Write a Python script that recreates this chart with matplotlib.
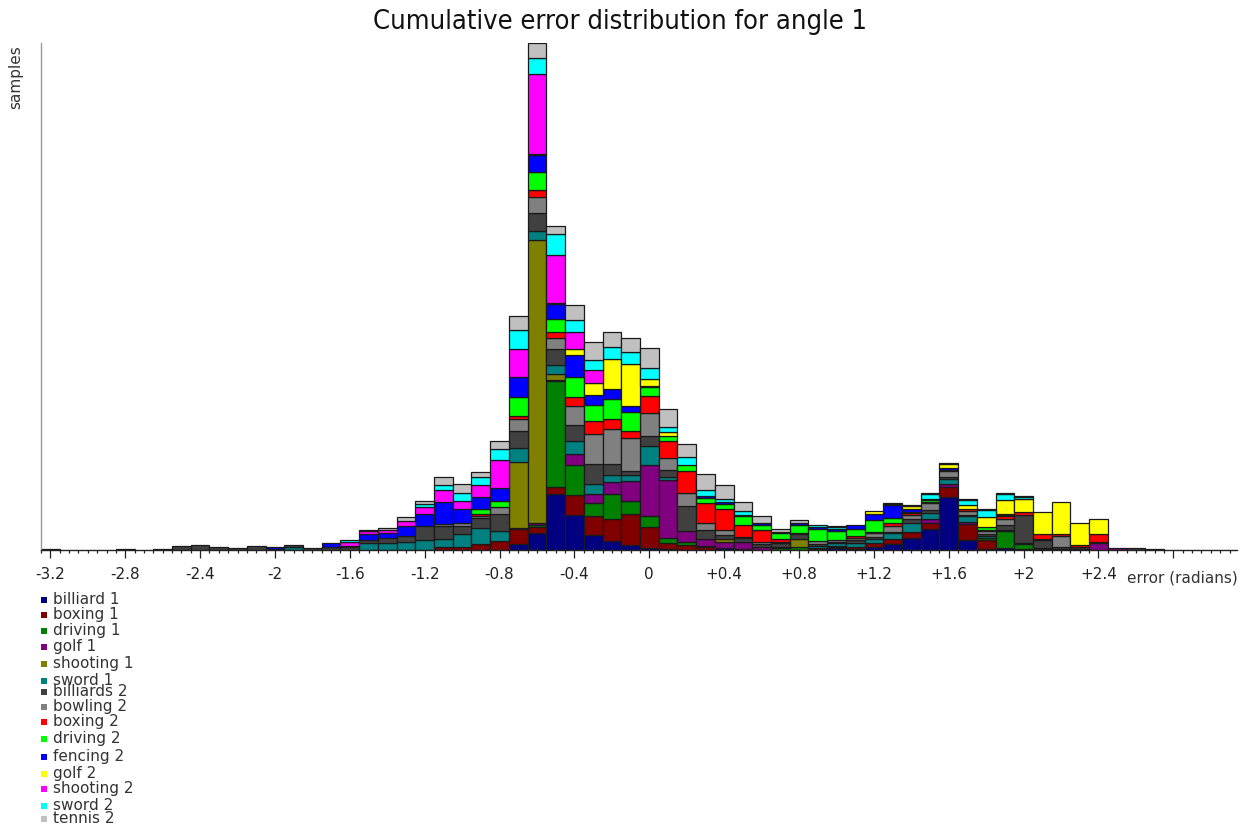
import numpy as np
import matplotlib
matplotlib.use("Agg")
import matplotlib.pyplot as plt
from matplotlib.patches import Rectangle

# Histogram bins (0.1 rad wide), centres from -3.2 to +2.7
bin_centers = np.round(np.arange(-3.2, 2.75, 0.1), 1)

series_names = ["billiard 1", "boxing 1", "driving 1", "golf 1", "shooting 1",
                "sword 1", "billiards 2", "bowling 2", "boxing 2", "driving 2",
                "fencing 2", "golf 2", "shooting 2", "sword 2", "tennis 2"]

series_colors = ["#000080", "#800000", "#008000", "#800080", "#808000",
                 "#008080", "#404040", "#808080", "#ff0000", "#00ff00",
                 "#0000ff", "#ffff00", "#ff00ff", "#00ffff", "#c0c0c0"]

# Sample counts per bin, one list per recording (stack order bottom -> top)
billiard_1 = [0, 0, 0, 0, 0, 0, 0, 0, 0, 0,
              0, 0, 0, 0, 0, 0, 0, 0, 0, 0,
              0, 0, 0, 0, 0, 6, 16.5, 56, 35, 14.5,
              8.5, 4.5, 1.5, 1, 0, 0, 2, 1, 0, 0,
              0, 1, 1.5, 1, 3, 6, 12, 21, 52.5, 10,
              1, 1.5, 1, 1, 1, 0, 0, 0, 0, 0]
boxing_1 = [0, 0, 0, 0, 0, 0, 0, 0, 0, 0,
            0, 0, 0, 0, 0, 0, 0, 0, 0, 0,
            0, 2.5, 2.5, 6, 9, 14.5, 6, 6.5, 19.5, 19.5,
            22.5, 31.5, 21, 6, 4.5, 3, 0, 0, 0, 0,
            0, 0, 1.5, 2, 3.5, 5, 6, 6, 10, 16,
            9, 0, 0, 1, 0, 1, 0, 0, 0, 0]
driving_1 = [0, 0, 0, 0, 0, 0, 0, 0, 0, 0,
             0, 0, 0, 0, 0, 0, 0, 0, 0, 0,
             0, 0, 0, 0, 0, 0, 2, 106, 30, 13,
             24.5, 13, 11, 5, 3.5, 0.5, 0, 0, 0, 2,
             3, 0, 0, 0, 0, 0, 0, 0, 0, 0,
             1.5, 17.5, 4.5, 0, 0, 0, 0, 0, 0, 0]
golf_1 = [0, 0, 0, 0, 0, 0, 0, 0, 0, 0,
          0, 0, 0, 0, 0, 0, 0, 0, 0, 0,
          0, 0, 0, 0, 0, 1, 2, 1, 11, 9,
          12.5, 20, 51, 57.5, 11, 7, 6, 6.5, 3, 1,
          0, 1, 1, 0, 0, 0, 0, 4, 3.5, 2,
          0, 0, 0, 0, 0, 0, 6.5, 2, 0, 0]
shooting_1 = [0, 0, 0, 0, 0, 0, 0, 0, 0, 0,
              0, 0, 0, 0, 0, 0, 0, 0, 0, 0,
              0, 0, 0, 0, 0, 66, 283, 6, 0, 0,
              0, 0, 0, 0, 0, 0, 2.5, 0, 0, 0,
              8, 0, 0, 0, 0, 0, 0, 0, 0, 0,
              0, 0, 0, 0, 0, 0, 0, 0, 0, 0]
sword_1 = [0, 0, 0, 0, 0, 0, 0, 0, 0, 0,
           0, 0, 0, 3, 0, 0, 0, 6.5, 6.5, 7.5,
           9.5, 8.5, 13.5, 16, 10, 14, 8.5, 9.5, 13.5, 10,
           7, 6, 19.5, 3, 0, 0, 0, 0, 0, 0,
           0, 2, 2.5, 4, 4, 6, 9, 6, 5, 6,
           2, 1, 1, 0, 0, 0, 0, 0, 0, 0]
billiards_2 = [1, 0, 0, 0, 1, 0, 1, 4, 5, 3,
               2, 3.5, 1, 1.5, 2, 2.5, 3, 3, 5, 6,
               14, 13, 8, 10, 17, 17, 18.5, 16, 15.5, 20,
               11, 3.5, 10, 7.5, 24.5, 9.5, 4, 4, 3, 3.5,
               4.5, 1.5, 1.5, 2.5, 2, 1, 4, 2.5, 2, 1,
               2, 5, 28.5, 7.5, 1.5, 2, 1, 0, 1.5, 1]
bowling_2 = [0, 0, 0, 0, 0, 0, 0, 0, 0, 0,
             0, 0, 0, 0, 0, 0, 0, 0, 0, 0,
             0, 1.5, 2.5, 2, 6.5, 12, 16, 10.5, 19.5, 29.5,
             34.5, 33.5, 23, 11.5, 13.5, 7, 5.5, 1, 1.5, 1.5,
             1.5, 3.5, 2, 2, 4, 6, 4, 7.5, 6, 4,
             3, 6, 0, 1.5, 11, 0, 0, 0, 0, 0]
boxing_2 = [0, 0, 0, 0, 0, 0, 0, 0, 0, 0,
            0, 0, 0, 0, 0, 0, 0, 0, 0, 0,
            0, 0, 0, 2.3, 0, 3.5, 6.5, 6, 9, 13.5,
            10.5, 6.5, 16.5, 17.5, 21.5, 20, 21, 12.5, 12, 3,
            0, 0, 0, 2, 1, 2.5, 1.5, 1, 1, 2,
            1.5, 3, 3, 4.5, 2, 2, 8, 0, 0, 0]
driving_2 = [0, 0, 0, 0, 0, 0, 0, 0, 0, 0,
             0, 0, 0, 0, 0, 0, 0, 0, 0, 0,
             0, 0, 0, 4.3, 6, 19, 18.5, 13, 20, 15.5,
             19.5, 19, 9, 5, 6, 5, 4.5, 8.5, 5, 5.5,
             7.5, 12, 8.5, 7.5, 12, 5, 1, 2, 0, 0,
             2.5, 1, 0, 0, 0, 0, 0, 0, 0, 0]
fencing_2 = [0, 0, 0, 0, 0, 0, 0, 0, 0, 0,
             0, 0, 2, 0, 0, 4, 1, 6, 5, 10.5,
             12, 22.5, 14, 12, 13, 19.5, 16.5, 15, 21.5, 10,
             10.5, 6, 1, 0, 0, 1.5, 2.5, 1.5, 2, 0,
             2, 2, 2, 3.5, 6, 13, 3.5, 1, 1.5, 0,
             0, 1, 0, 0, 0, 0, 0, 0, 0, 0]
golf_2 = [0, 0, 0, 0, 0, 0, 0, 0, 0, 0,
          0, 0, 0, 0, 0, 0, 0, 0, 0, 0,
          0, 0, 0, 0, 0, 0, 1, 1, 6, 12.5,
          29.5, 42, 7.5, 3.5, 0, 0, 0, 0, 0, 1.5,
          0, 0, 0, 0, 3, 0, 3, 0, 4, 4,
          10, 14, 12.5, 22, 32, 21.5, 15.5, 0, 0, 0]
shooting_2 = [0, 0, 0, 0, 0, 0, 0, 0, 0, 0,
              0, 0, 0, 0, 0, 0, 3.5, 3, 3, 5,
              7, 12, 8.5, 12.3, 28, 28, 80, 48, 17, 13,
              0, 0, 0, 0, 0, 0, 0, 0, 0, 0,
              0, 0, 0, 0, 0, 0, 0, 0, 0, 0,
              0, 0, 0, 0, 0, 0, 0, 0, 0, 0]
sword_2 = [0, 0, 0, 0, 0, 0, 0, 0, 0, 0,
           0, 0, 0, 0, 0, 0, 2, 0, 0, 0,
           3, 5, 8, 8.3, 11, 19, 16, 21, 12, 10,
           12.5, 12.5, 11, 5.5, 8, 6.5, 3, 4, 0, 0,
           0, 2, 2, 0, 0, 1, 0, 4.5, 0, 4.5,
           7, 5.5, 2, 0, 0, 0, 0, 0, 0, 0]
tennis_2 = [0, 0, 0, 0, 0, 0, 0, 0, 0, 0,
            0, 0, 0, 0, 0, 0, 0, 1, 2.5, 3.5,
            3.5, 7.5, 9, 4.7, 8.5, 14, 15, 8, 15.5, 18,
            14.5, 14, 20, 18, 13, 16, 14, 8.5, 7, 3,
            3.5, 0, 1, 0, 0, 1, 1, 1, 1, 1,
            1, 1, 1, 0, 0, 0, 0, 0, 0, 0]

series_values = [billiard_1, boxing_1, driving_1, golf_1, shooting_1, sword_1,
                 billiards_2, bowling_2, boxing_2, driving_2, fencing_2, golf_2,
                 shooting_2, sword_2, tennis_2]

tick_values = [-3.2, -2.8, -2.4, -2.0, -1.6, -1.2, -0.8, -0.4, 0.0,
               0.4, 0.8, 1.2, 1.6, 2.0, 2.4, 2.8]
tick_labels = ["-3.2", "-2.8", "-2.4", "-2", "-1.6", "-1.2", "-0.8", "-0.4", "0",
               "+0.4", "+0.8", "+1.2", "+1.6", "+2", "+2.4", ""]

W, H = 1249, 828
fig = plt.figure(figsize=(W / 100, H / 100), dpi=100)
fig.patch.set_facecolor("white")

ax = fig.add_axes([41 / W, 1 - 551 / H, (1237 - 41) / W, (551 - 44) / H])

bottom = np.zeros(len(bin_centers))
for vals, color in zip(series_values, series_colors):
    v = np.asarray(vals, dtype=float)
    m = v > 0
    ax.bar(bin_centers[m], v[m], width=0.1, bottom=bottom[m], color=color,
           edgecolor="#1a1a1a", linewidth=0.9, align="center", zorder=2)
    bottom += v

ax.set_xlim(-3.25, 3.14)
ax.set_ylim(0, bottom.max())

for side in ("top", "right"):
    ax.spines[side].set_visible(False)
ax.spines["left"].set_color("#9a9a9a")
ax.spines["left"].set_linewidth(1.0)
ax.spines["bottom"].set_color("#222222")
ax.spines["bottom"].set_linewidth(1.0)

ax.set_yticks([])
ax.set_xticks(tick_values)
ax.set_xticklabels(tick_labels)
ax.set_xticks(np.round(np.arange(-3.25, 3.14, 0.05), 2), minor=True)
ax.tick_params(axis="x", which="major", direction="out", length=6, width=0.9,
               color="#222222", labelsize=11, labelcolor="#222222", pad=5.5)
ax.tick_params(axis="x", which="minor", direction="out", length=2.5, width=0.9,
               color="#222222")

# Figure-level text and legend, drawn in pixel coordinates
ov = fig.add_axes([0, 0, 1, 1], facecolor="none")
ov.set_xlim(0, W)
ov.set_ylim(H, 0)
ov.axis("off")

ov.text(620, 22, "Cumulative error distribution for angle 1", ha="center",
        va="center", fontsize=19.5, fontstretch="condensed", color="#111111")
ov.text(16, 45, "samples", rotation=90, ha="center", va="top",
        fontsize=11, color="#333333")
ov.text(1238, 578, "error (radians)", ha="right", va="center",
        fontsize=11, color="#333333")

legend_rows = [601, 616, 632, 648, 665, 682, 693, 708, 723, 740, 758, 775, 790, 807, 820]
for name, color, yc in zip(series_names, series_colors, legend_rows):
    ov.add_patch(Rectangle((41, yc - 3), 6, 6, facecolor=color, edgecolor="none"))
    ov.text(53, yc + 3, name, ha="left", va="baseline", fontsize=11,
            color="#333333")

fig.savefig("out.png", dpi=100, facecolor="white")
